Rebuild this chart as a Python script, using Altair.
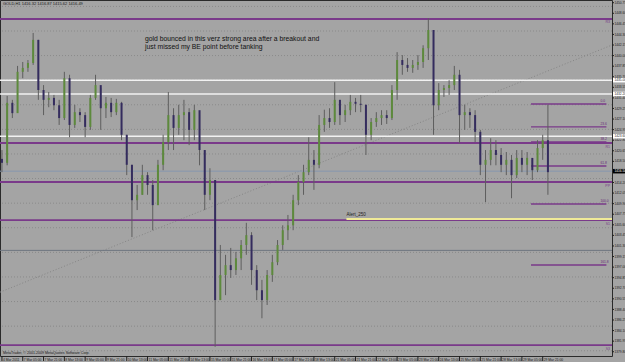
import altair as alt
import pandas as pd

# ---------------- data (GOLD, H1, 4-hour groups) ----------------
highs = [1420.8, 1431.8, 1431.0, 1437.9, 1438.7, 1439.1, 1444.6, 1443.2, 1434.0, 1432.6,
         1432.0, 1431.0, 1436.7, 1436.1, 1430.0, 1429.3, 1428.5, 1432.0, 1436.1, 1433.4,
         1431.6, 1431.4, 1431.2, 1430.6, 1423.9, 1417.8, 1413.7, 1417.8, 1416.3, 1414.7,
         1418.8, 1423.9, 1432.6, 1429.3, 1430.0, 1431.0, 1429.3, 1430.0, 1427.9, 1420.8,
         1417.1, 1414.7, 1401.5, 1399.5, 1400.9, 1400.1, 1402.5, 1406.0, 1404.1, 1397.4,
         1394.4, 1396.4, 1399.5, 1402.5, 1405.5, 1407.6, 1411.7, 1415.7, 1417.8, 1423.4,
         1420.8, 1427.9, 1429.0, 1429.3, 1434.6, 1431.0, 1430.0, 1432.0, 1431.4, 1432.0,
         1430.0, 1427.3, 1428.5, 1428.9, 1428.9, 1434.0, 1440.7, 1440.1, 1439.5, 1439.1,
         1440.1, 1442.1, 1447.6, 1445.2, 1434.4, 1434.0, 1435.0, 1437.9, 1437.1, 1430.0,
         1429.3, 1428.9, 1424.9, 1420.8, 1423.2, 1422.8, 1421.2, 1420.4, 1419.8, 1420.8,
         1420.8, 1420.4, 1418.8, 1422.8, 1423.9, 1430.0]
lows = [1416.3, 1417.7, 1427.3, 1428.5, 1435.4, 1436.7, 1438.1, 1431.0, 1427.9, 1429.5,
        1428.9, 1425.9, 1426.9, 1423.4, 1425.3, 1426.5, 1423.4, 1424.9, 1431.0, 1424.9,
        1427.3, 1427.5, 1427.9, 1422.8, 1415.7, 1403.1, 1408.6, 1411.7, 1411.7, 1404.5,
        1409.6, 1416.7, 1420.8, 1420.8, 1423.9, 1422.8, 1421.8, 1422.8, 1417.7, 1408.6,
        1410.6, 1380.8, 1390.3, 1391.3, 1394.8, 1395.4, 1396.4, 1399.5, 1393.4, 1390.3,
        1386.6, 1389.3, 1394.0, 1397.4, 1400.5, 1402.5, 1404.5, 1409.6, 1411.7, 1415.7,
        1412.7, 1417.1, 1424.5, 1425.3, 1425.9, 1425.9, 1426.5, 1427.9, 1428.5, 1428.5,
        1419.8, 1422.8, 1425.5, 1425.9, 1426.1, 1426.9, 1431.0, 1436.1, 1436.7, 1436.5,
        1437.1, 1437.5, 1439.1, 1423.9, 1428.9, 1431.6, 1432.0, 1433.0, 1422.2, 1424.9,
        1425.3, 1422.4, 1415.7, 1410.2, 1417.7, 1417.7, 1416.3, 1415.7, 1411.0, 1415.1,
        1416.3, 1415.7, 1414.7, 1416.3, 1418.8, 1411.7]
closes = [1418.2, 1430.4, 1428.3, 1436.7, 1437.5, 1438.5, 1443.2, 1433.0, 1431.0, 1431.4,
          1429.9, 1427.3, 1435.4, 1425.9, 1428.5, 1427.9, 1425.5, 1431.4, 1434.0, 1429.3,
          1430.4, 1428.5, 1430.4, 1423.9, 1417.8, 1410.6, 1411.7, 1415.7, 1413.7, 1409.6,
          1417.8, 1422.4, 1427.9, 1425.3, 1427.9, 1428.5, 1424.9, 1428.9, 1420.8, 1411.7,
          1414.7, 1390.3, 1395.4, 1397.4, 1396.4, 1398.8, 1401.5, 1403.5, 1396.4, 1392.3,
          1390.3, 1395.4, 1398.0, 1401.5, 1404.5, 1405.5, 1410.6, 1414.3, 1416.3, 1418.8,
          1417.8, 1425.9, 1427.3, 1426.5, 1431.0, 1427.9, 1428.9, 1430.6, 1430.2, 1430.0,
          1423.9, 1426.5, 1427.3, 1427.9, 1427.3, 1433.0, 1439.1, 1438.1, 1437.5, 1438.1,
          1438.7, 1441.5, 1445.2, 1429.9, 1433.0, 1433.4, 1434.0, 1436.1, 1427.9, 1428.5,
          1427.9, 1424.5, 1417.8, 1418.8, 1420.8, 1419.8, 1417.8, 1418.8, 1415.7, 1419.2,
          1417.8, 1419.2, 1416.7, 1421.2, 1422.8, 1416.3]
first_open = 1419.0
bars_per_candle = 4

time_labels = ["4 Mar 2011", "7 Mar 05:00", "7 Mar 21:00", "8 Mar 13:00", "9 Mar 05:00",
               "9 Mar 21:00", "10 Mar 13:00", "11 Mar 05:00", "11 Mar 21:00", "14 Mar 13:00",
               "15 Mar 05:00", "15 Mar 21:00", "16 Mar 13:00", "17 Mar 05:00", "17 Mar 21:00",
               "18 Mar 13:00", "21 Mar 05:00", "21 Mar 21:00", "22 Mar 13:00", "23 Mar 05:00",
               "23 Mar 21:00", "24 Mar 13:00", "25 Mar 05:00", "25 Mar 21:00", "28 Mar 13:00",
               "29 Mar 05:00", "29 Mar 21:00"]
bars_per_label = 16

price_labels = [1379.80, 1381.95, 1384.10, 1386.25, 1388.40, 1390.55, 1392.70, 1394.85,
                1397.00, 1399.15, 1401.30, 1403.45, 1405.60, 1407.75, 1409.90, 1412.05,
                1414.20, 1416.35, 1418.50, 1420.65, 1422.80, 1424.95, 1427.10, 1429.25,
                1431.40, 1433.55, 1435.70, 1437.85, 1440.00, 1442.15, 1444.30, 1446.45,
                1448.60, 1450.75]
grid_prices = [1380, 1385, 1390, 1395, 1400, 1405, 1410, 1415, 1420, 1425, 1430, 1435,
               1440, 1445, 1450]

pivot_levels = [1447.44, 1422.23, 1414.30, 1406.57, 1381.16]
pivot_names = ["R3", "R1", "PP", "S1", "S3"]
white_levels = [1435.0, 1432.2, 1423.6]
fib_levels = [1430.16, 1425.50, 1422.43, 1417.55, 1409.83, 1397.43]
fib_names = ["0.0", "23.6", "38.2", "61.8", "100.0", "161.8"]
fib_start_bar, fib_end_bar = 407, 465
current_price = 1416.5
gray_level = 1400.4
alert_level = 1406.8
alert_start_bar = 265
trend_bars = [-1.5, 469.3]
trend_prices = [1391.9, 1442.15]

header = "GOLD,H1  1416.32 1416.87 1415.62 1416.49"
note = ["gold bounced in this verz strong area after a breakout and",
        "just missed my BE point before tanking"]
footer = "MetaTrader, © 2001-2009 MetaQuotes Software Corp."

# ---------------- frames ----------------
opens = [first_open] + closes[:-1]
df = pd.DataFrame({
    "bar": [i * bars_per_candle for i in range(len(closes))],
    "open": opens, "high": highs, "low": lows, "close": closes,
})
df["up"] = df["close"] >= df["open"]

FONT = "Liberation Sans"
W, H = 612, 356
xs = alt.Scale(domain=[-1.5, 469.3], nice=False, zero=False)
ys = alt.Scale(domain=[1378.93, 1451.30], nice=False, zero=False)
X = lambda f: alt.X(f, scale=xs, axis=None)
Y = lambda f: alt.Y(f, scale=ys, axis=None)

grid = alt.Chart(pd.DataFrame({"p": grid_prices})).mark_rule(
    color="#8a8a8a", strokeWidth=1, strokeDash=[1, 2]).encode(y=Y("p:Q"))

trend = alt.Chart(pd.DataFrame({"b": trend_bars, "p": trend_prices})).mark_line(
    color="#858585", strokeWidth=1, strokeDash=[1, 2]).encode(x=X("b:Q"), y=Y("p:Q"))

white = alt.Chart(pd.DataFrame({"p": white_levels})).mark_rule(
    color="#f2f2f2", strokeWidth=1.6).encode(y=Y("p:Q"))
cur = alt.Chart(pd.DataFrame({"p": [current_price]})).mark_rule(
    color="#8898b0", strokeWidth=1).encode(y=Y("p:Q"))
gray = alt.Chart(pd.DataFrame({"p": [gray_level]})).mark_rule(
    color="#6e7680", strokeWidth=1).encode(y=Y("p:Q"))
pivots = alt.Chart(pd.DataFrame({"p": pivot_levels, "n": pivot_names})).mark_rule(
    color="#7a3a8a", strokeWidth=1.8).encode(y=Y("p:Q"))
pivot_txt = alt.Chart(pd.DataFrame({"p": pivot_levels, "n": pivot_names})).mark_text(
    font=FONT, fontSize=3.5, color="#7a3a8a", align="right", baseline="top", dy=1.5
).encode(x=alt.value(610), y=Y("p:Q"), text="n:N")

fib_df = pd.DataFrame({"p": fib_levels, "n": fib_names,
                       "s": [fib_start_bar] * len(fib_levels),
                       "e": [fib_end_bar] * len(fib_levels)})
fib = alt.Chart(fib_df).mark_rule(color="#7a3a8a", strokeWidth=1.4).encode(
    x=X("s:Q"), x2="e:Q", y=Y("p:Q"))
fib_txt = alt.Chart(fib_df).mark_text(
    font=FONT, fontSize=3.3, color="#6a2a7a", align="left", baseline="bottom", dx=-6, dy=-1
).encode(x=X("e:Q"), y=Y("p:Q"), text="n:N")

alert_df = pd.DataFrame({"s": [alert_start_bar], "e": [trend_bars[1]], "p": [alert_level],
                         "t": ["Alert_250"]})
alert = alt.Chart(alert_df).mark_rule(color="#f0ea98", strokeWidth=2).encode(
    x=X("s:Q"), x2="e:Q", y=Y("p:Q"))
alert_txt = alt.Chart(alert_df).mark_text(
    font=FONT, fontSize=4.5, color="#222", align="left", baseline="bottom", dy=-2
).encode(x=X("s:Q"), y=Y("p:Q"), text="t:N")

wick = alt.Chart(df).mark_rule(color="#5e5e5e", strokeWidth=1).encode(
    x=X("bar:Q"), y=Y("low:Q"), y2="high:Q")
body = alt.Chart(df).mark_rule(strokeWidth=2).encode(
    x=X("bar:Q"), y=Y("open:Q"), y2="close:Q",
    color=alt.Color("up:N", scale=alt.Scale(domain=[True, False],
                                            range=["#5d8a3c", "#342c5e"]), legend=None))

# right price axis
plab = pd.DataFrame({"p": price_labels, "t": [f"{v:.2f}" for v in price_labels]})
ptxt = alt.Chart(plab).mark_text(
    font=FONT, fontSize=3.2, color="#1a1a1a", align="left", baseline="middle"
).encode(x=alt.value(614.5), y=Y("p:Q"), text="t:N")
ptick = alt.Chart(plab).mark_rule(color="#202020").encode(
    x=alt.value(612), x2=alt.value(614), y=Y("p:Q"))
curbox = alt.Chart(pd.DataFrame({"p": [current_price], "t": [f"{current_price:.2f}"]}))
curbox_r = curbox.mark_rule(color="#000000", strokeWidth=4.5).encode(
    x=alt.value(613), x2=alt.value(625), y=Y("p:Q"))
curbox_t = curbox.mark_text(font=FONT, fontSize=3.2, color="white", align="left",
                            baseline="middle").encode(x=alt.value(614.5), y=Y("p:Q"), text="t:N")
wbox = alt.Chart(pd.DataFrame({"p": white_levels, "t": [f"{v:.2f}" for v in white_levels]}))
wbox_r = wbox.mark_rule(color="#ffffff", strokeWidth=4.5).encode(
    x=alt.value(613), x2=alt.value(625), y=Y("p:Q"))
wbox_t = wbox.mark_text(font=FONT, fontSize=3.2, color="#222", align="left",
                        baseline="middle").encode(x=alt.value(614.5), y=Y("p:Q"), text="t:N")

# time axis
tl = pd.DataFrame({"b": [i * bars_per_label for i in range(len(time_labels))], "t": time_labels})
ttxt = alt.Chart(tl).mark_text(
    font=FONT, fontSize=3.3, color="#1a1a1a", align="left", baseline="middle", dx=1
).encode(x=X("b:Q"), y=alt.value(359.5), text="t:N")
ttick = alt.Chart(tl).mark_rule(color="#202020").encode(
    x=X("b:Q"), y=alt.value(356), y2=alt.value(361))

texts = alt.Chart(pd.DataFrame({"t": note, "y": [41, 49]})).mark_text(
    font=FONT, fontSize=6.8, color="#111111", align="left", baseline="alphabetic"
).encode(x=alt.value(145), y=alt.Y("y:Q", scale=None), text="t:N")
head = alt.Chart(pd.DataFrame({"t": [header]})).mark_text(
    font=FONT, fontSize=4, color="#1a1a1a", align="left", baseline="middle"
).encode(x=alt.value(3), y=alt.value(4), text="t:N")
foot = alt.Chart(pd.DataFrame({"t": [footer]})).mark_text(
    font=FONT, fontSize=3.6, color="#1a1a1a", align="left", baseline="middle"
).encode(x=alt.value(3), y=alt.value(352.5), text="t:N")

chart = alt.layer(
    grid, trend, gray, cur, white, pivots, fib, alert,
    wick, body,
    pivot_txt, fib_txt, alert_txt,
    ptick, ptxt, wbox_r, wbox_t, curbox_r, curbox_t,
    ttick, ttxt, texts, head, foot,
).properties(
    width=W, height=H,
    autosize=alt.AutoSizeParams(type="none"),
    padding={"left": 0, "top": 0, "right": 13, "bottom": 6},
    background="#a4a4a4",
).configure_view(stroke="#2a2a2a", strokeWidth=1, fill="#a4a4a4")

chart.save("out.html", embed_options={"renderer": "svg", "actions": False})
